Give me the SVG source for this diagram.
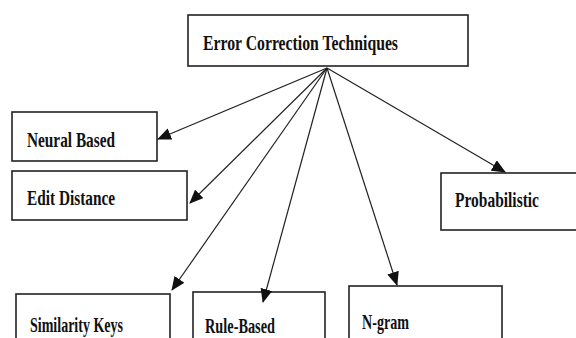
<svg xmlns="http://www.w3.org/2000/svg" width="576" height="338" viewBox="0 0 576 338">
<style>
.box{fill:#fff;stroke:#222;stroke-width:1.6}
.lbl{font-family:"Liberation Serif","Times New Roman",serif;font-weight:bold;font-size:22px;fill:#111}
.edge{stroke:#222;stroke-width:1.2;fill:none;marker-end:url(#ah)}
</style>
<defs>
<marker id="ah" markerUnits="userSpaceOnUse" markerWidth="14" markerHeight="12" refX="13" refY="6" orient="auto">
<path d="M0,0 L14,6 L0,12 Z" fill="#111"/>
</marker>
</defs>
<rect width="576" height="338" fill="#fff"/>
<g id="root"><rect class="box" x="188" y="15" width="280" height="51"/><text class="lbl" x="203" y="50" textLength="195" lengthAdjust="spacingAndGlyphs">Error Correction Techniques</text></g>
<g id="neural"><rect class="box" x="12" y="112" width="145" height="49"/><text class="lbl" x="27" y="147" textLength="88" lengthAdjust="spacingAndGlyphs">Neural Based</text></g>
<g id="edit"><rect class="box" x="12" y="171" width="175" height="49"/><text class="lbl" x="27" y="205" textLength="88" lengthAdjust="spacingAndGlyphs">Edit Distance</text></g>
<g id="prob"><rect class="box" x="441" y="173" width="145" height="57"/><text class="lbl" x="455" y="207" textLength="84" lengthAdjust="spacingAndGlyphs">Probabilistic</text></g>
<g id="sim"><rect class="box" x="16" y="294" width="154" height="60"/><text class="lbl" x="30" y="332" textLength="93" lengthAdjust="spacingAndGlyphs">Similarity Keys</text></g>
<g id="rule"><rect class="box" x="193" y="292" width="132" height="60"/><text class="lbl" x="205" y="333" textLength="70" lengthAdjust="spacingAndGlyphs">Rule-Based</text></g>
<g id="ngram"><rect class="box" x="349" y="286" width="153" height="60"/><text class="lbl" x="362" y="329" textLength="47" lengthAdjust="spacingAndGlyphs">N-gram</text></g>
<g id="connectors">
<line class="edge" x1="327" y1="68" x2="158" y2="139"/>
<line class="edge" x1="327" y1="68" x2="190" y2="203"/>
<line class="edge" x1="327" y1="68" x2="172" y2="290"/>
<line class="edge" x1="327" y1="68" x2="263" y2="302"/>
<line class="edge" x1="327" y1="68" x2="397" y2="285"/>
<line class="edge" x1="327" y1="68" x2="505" y2="172"/>
</g>
</svg>
